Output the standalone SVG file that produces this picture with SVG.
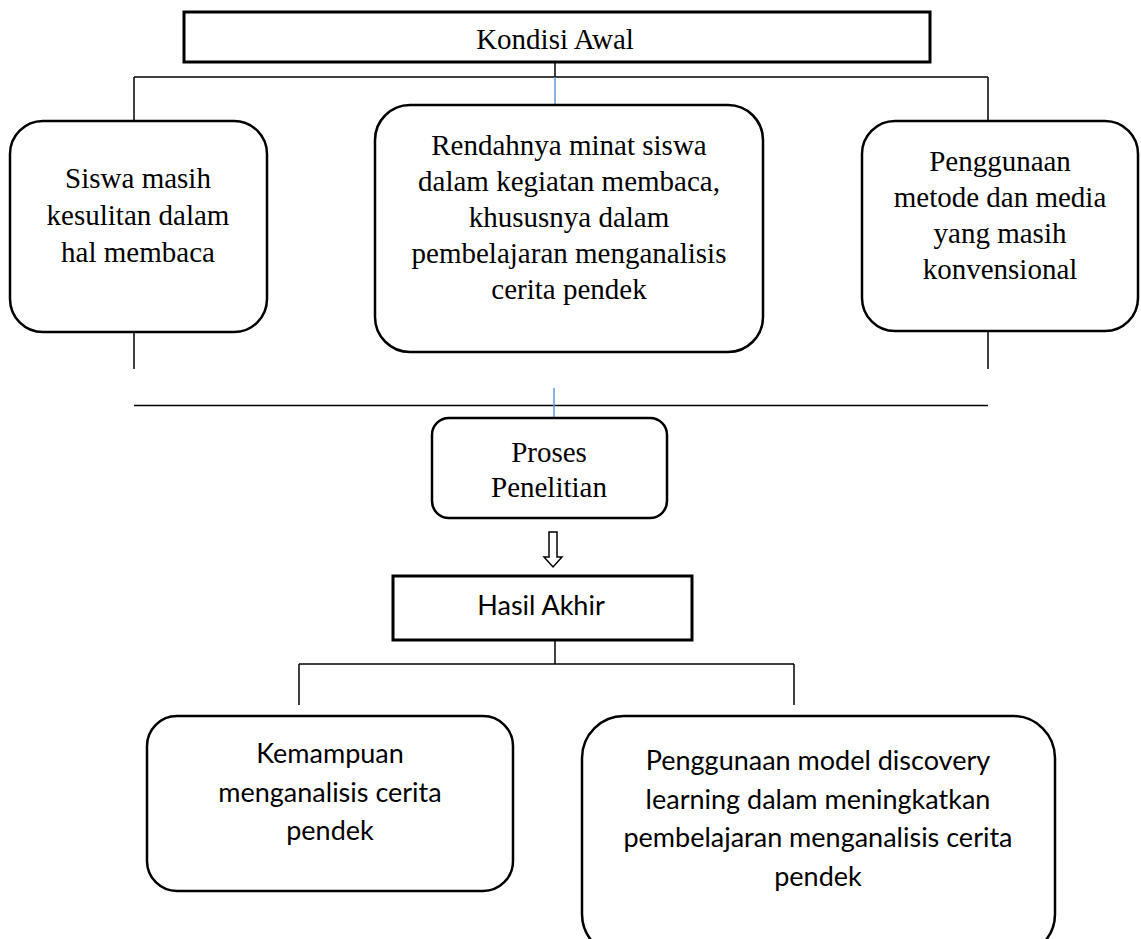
<svg xmlns="http://www.w3.org/2000/svg" width="1141" height="939" viewBox="0 0 1141 939">
<style>
.box{fill:#fff;stroke:#000;stroke-width:2.5}
.ln{stroke:#000;stroke-width:1.5;fill:none}
.bl{stroke:#5B9BD5;stroke-width:1.5;fill:none}
.tm{font-family:"Liberation Serif","Times New Roman",serif;font-size:29px;fill:#000;text-anchor:middle}
.cb{font-family:Lato,"Liberation Sans",sans-serif;font-size:27px;fill:#000;text-anchor:middle}
</style>
<rect width="1141" height="939" fill="#fff"/>
<g id="connectors">
<line class="ln" x1="555" y1="62" x2="555" y2="77"/>
<line class="ln" x1="134" y1="77" x2="988" y2="77"/>
<line class="bl" x1="555" y1="77" x2="555" y2="105"/>
<line class="ln" x1="134" y1="77" x2="134" y2="121"/>
<line class="ln" x1="988" y1="77" x2="988" y2="121"/>
<line class="ln" x1="134" y1="332" x2="134" y2="369"/>
<line class="ln" x1="988" y1="332" x2="988" y2="369"/>
<line class="ln" x1="134" y1="405.5" x2="988" y2="405.5"/>
<line class="bl" x1="554" y1="388" x2="554" y2="418"/>
<polygon class="ln" points="549,532 557,532 557,557 562,557 553,567 544,557 549,557"/>
<line class="ln" x1="555" y1="640" x2="555" y2="664"/>
<line class="ln" x1="299" y1="664" x2="794" y2="664"/>
<line class="ln" x1="299" y1="664" x2="299" y2="705"/>
<line class="ln" x1="794" y1="664" x2="794" y2="705"/>
</g>
<g id="kondisi-awal">
<rect class="box" x="184" y="12" width="746" height="50" style="stroke-width:3"/>
<text class="tm" x="555" y="49">Kondisi Awal</text>
</g>
<g id="siswa-kesulitan">
<rect class="box" x="10" y="121" width="257" height="211" rx="33"/>
<text class="tm" x="138" y="188">Siswa masih</text>
<text class="tm" x="138" y="225">kesulitan dalam</text>
<text class="tm" x="138" y="262">hal membaca</text>
</g>
<g id="rendahnya-minat">
<rect class="box" x="375" y="105" width="388" height="247" rx="35"/>
<text class="tm" x="569" y="155">Rendahnya minat siswa</text>
<text class="tm" x="569" y="191">dalam kegiatan membaca,</text>
<text class="tm" x="569" y="227">khususnya dalam</text>
<text class="tm" x="569" y="263">pembelajaran menganalisis</text>
<text class="tm" x="569" y="299">cerita pendek</text>
</g>
<g id="penggunaan-metode">
<rect class="box" x="862" y="121" width="276" height="210" rx="33"/>
<text class="tm" x="1000" y="171">Penggunaan</text>
<text class="tm" x="1000" y="207">metode dan media</text>
<text class="tm" x="1000" y="243">yang masih</text>
<text class="tm" x="1000" y="279">konvensional</text>
</g>
<g id="proses-penelitian">
<rect class="box" x="432" y="418" width="235" height="100" rx="17"/>
<text class="tm" x="549" y="462">Proses</text>
<text class="tm" x="549" y="497">Penelitian</text>
</g>
<g id="hasil-akhir">
<rect class="box" x="393" y="576" width="299" height="64" style="stroke-width:3"/>
<text class="cb" x="541" y="615">Hasil Akhir</text>
</g>
<g id="kemampuan">
<rect class="box" x="147" y="716" width="366" height="175" rx="30"/>
<text class="cb" x="330" y="763">Kemampuan</text>
<text class="cb" x="330" y="802">menganalisis cerita</text>
<text class="cb" x="330" y="840">pendek</text>
</g>
<g id="penggunaan-model">
<rect class="box" x="582" y="716" width="473" height="240" rx="42"/>
<text class="cb" x="818" y="770">Penggunaan model discovery</text>
<text class="cb" x="818" y="809">learning dalam meningkatkan</text>
<text class="cb" x="818" y="847">pembelajaran menganalisis cerita</text>
<text class="cb" x="818" y="886">pendek</text>
</g>
</svg>
